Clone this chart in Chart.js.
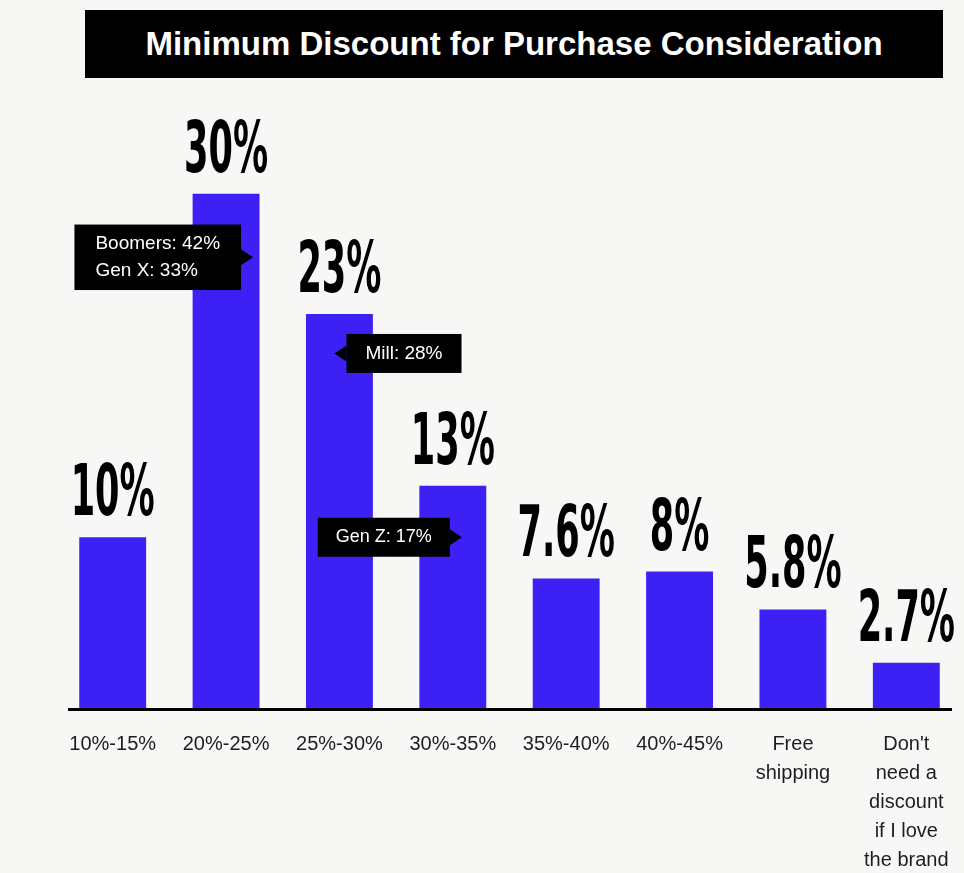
<!DOCTYPE html>
<html>
<head>
<meta charset="utf-8">
<script src="https://cdn.jsdelivr.net/npm/chart.js@4.4.1/dist/chart.umd.min.js"></script>
<style>
  body { margin: 0; background: #f7f7f5; }
  .wrap { position: relative; width: 964px; height: 873px; }
  .title {
    position: absolute; left: 85px; top: 10px; width: 858px; height: 68px;
    background: #000; color: #fff;
    font: bold 33px "Liberation Sans", Arial, sans-serif;
    display: flex; align-items: center; justify-content: center;
  }
  canvas { position: absolute; left: 0; top: 0; }
</style>
</head>
<body>
<div class="wrap">
  <canvas id="chart" width="964" height="873"></canvas>
  <div class="title">Minimum Discount for Purchase Consideration</div>
</div>
<script>
const categories = ['10%-15%', '20%-25%', '25%-30%', '30%-35%', '35%-40%', '40%-45%',
  ['Free', 'shipping'], ["Don't", 'need a', 'discount', 'if I love', 'the brand']];
const shares = [10, 30, 23, 13, 7.6, 8, 5.8, 2.7];

// generation call-outs: which bar they hang on and the height (in %) of the pointer
const calloutText = [['Boomers: 42%', 'Gen X: 33%'], ['Mill: 28%'], ['Gen Z: 17%']];
const calloutBars = [1, 2, 3];
const calloutLevels = [26.3, 20.7, 10.0];

const BAR_BLUE = '#3c20f4';
// pointer offset from bar centre, side of the box, inner padding and font size
const calloutLayout = [
  { dx: 27, side: 'left', pad: 21, size: 19 },
  { dx: -5, side: 'right', pad: 19, size: 19 },
  { dx: 9, side: 'left', pad: 18, size: 18 }
];

const decorations = {
  id: 'decorations',
  afterDatasetsDraw(chart) {
    const ctx = chart.ctx;
    const area = chart.chartArea;
    const meta = chart.getDatasetMeta(0);
    const yScale = chart.scales.y;

    ctx.save();
    // axis line
    ctx.fillStyle = '#000';
    ctx.fillRect(68, area.bottom - 1, 884, 3);

    // big condensed value labels
    ctx.font = 'bold 71px "DejaVu Sans Condensed", "DejaVu Sans", sans-serif';
    const squeeze = 84 / ctx.measureText('23%').width;
    ctx.textAlign = 'center';
    ctx.textBaseline = 'alphabetic';
    meta.data.forEach((bar, i) => {
      ctx.save();
      ctx.translate(bar.x, bar.y - 22);
      ctx.scale(squeeze, 1);
      ctx.fillText(shares[i] + '%', 0, 0);
      ctx.restore();
    });

    // black call-out boxes with a little pointer
    ctx.textAlign = 'left';
    ctx.textBaseline = 'middle';
    calloutText.forEach((lines, k) => {
      const bar = meta.data[calloutBars[k]];
      const lay = calloutLayout[k];
      ctx.font = lay.size + 'px "Liberation Sans", Arial, sans-serif';
      const tipX = bar.x + lay.dx;
      const tipY = yScale.getPixelForValue(calloutLevels[k]);
      const textW = Math.max(...lines.map(t => ctx.measureText(t).width));
      const boxW = textW + lay.pad * 2;
      const boxH = 39 + (lines.length - 1) * 26.5;
      const arrow = 12;
      const half = 8;
      const edge = lay.side === 'left' ? tipX - arrow : tipX + arrow;
      const boxX = lay.side === 'left' ? edge - boxW : edge;
      const boxY = tipY - boxH / 2;

      ctx.fillStyle = '#000';
      ctx.fillRect(boxX, boxY, boxW, boxH);
      ctx.beginPath();
      ctx.moveTo(edge, tipY - half);
      ctx.lineTo(tipX, tipY);
      ctx.lineTo(edge, tipY + half);
      ctx.closePath();
      ctx.fill();

      ctx.fillStyle = '#fff';
      lines.forEach((t, j) => {
        ctx.fillText(t, boxX + lay.pad, boxY + 19.5 + j * 26.5);
      });
    });
    ctx.restore();
  }
};

new Chart(document.getElementById('chart'), {
  type: 'bar',
  data: {
    labels: categories,
    datasets: [{
      data: shares,
      backgroundColor: BAR_BLUE,
      barPercentage: 0.59,
      categoryPercentage: 1
    }]
  },
  options: {
    responsive: false,
    animation: false,
    devicePixelRatio: 1,
    layout: { padding: { left: 56, right: 1, top: 22, bottom: 0 } },
    plugins: {
      legend: { display: false },
      tooltip: { enabled: false }
    },
    scales: {
      x: {
        grid: { display: false, drawTicks: false },
        border: { display: false },
        ticks: {
          color: '#1e1e1e',
          font: { family: '"Liberation Sans", Arial, sans-serif', size: 20, lineHeight: 1.45 },
          padding: 21,
          maxRotation: 0,
          autoSkip: false
        },
        afterFit(scale) {
          scale.height = 164;
          // labels may hang past the edges; keep the bars evenly spread anyway
          scale.paddingLeft = 0;
          scale.paddingRight = 0;
        }
      },
      y: { display: false, min: 0, max: 40 }
    }
  },
  plugins: [decorations]
});
</script>
</body>
</html>
